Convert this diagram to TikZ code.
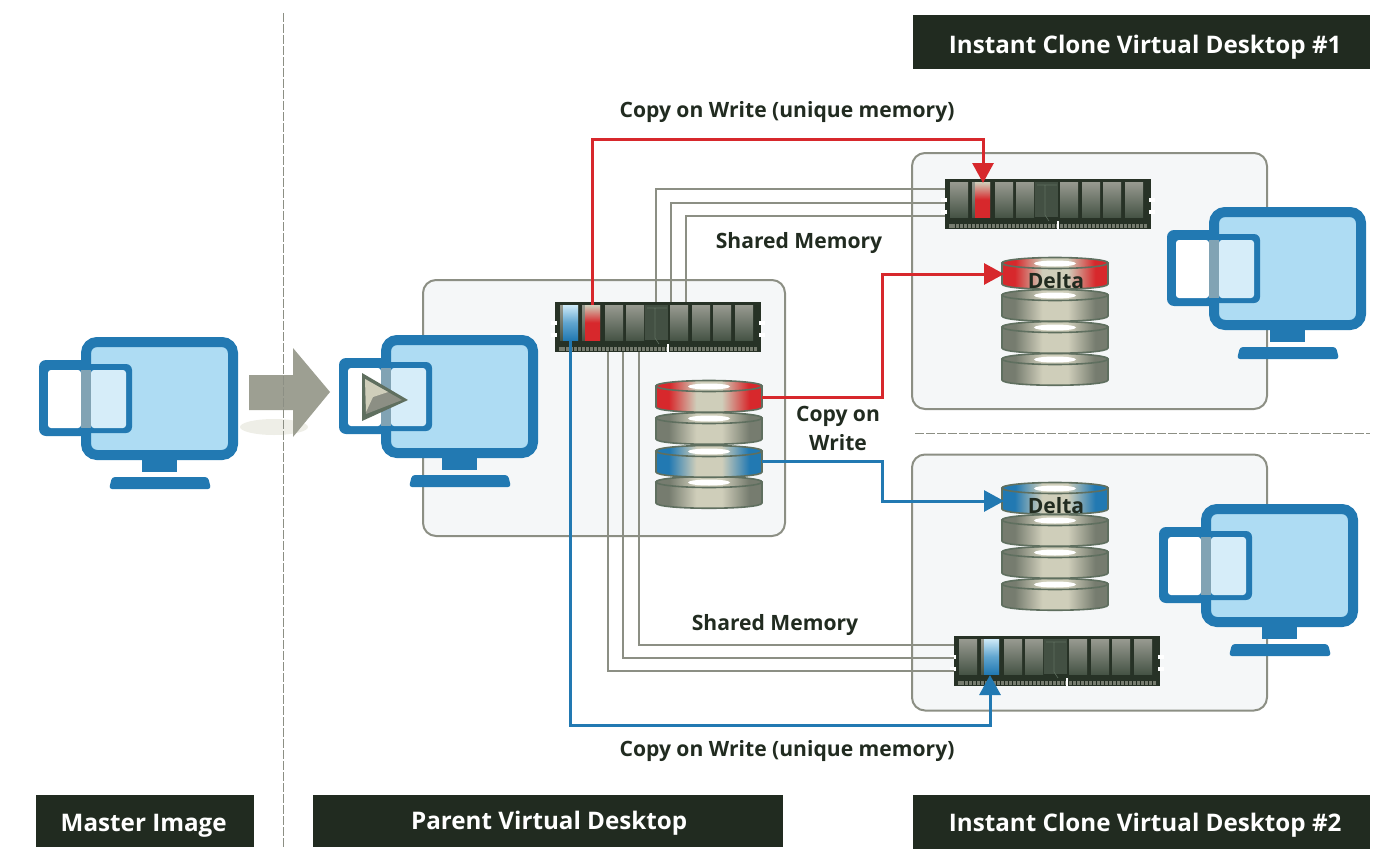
\documentclass[tikz,border=0pt]{standalone}
\usepackage{xcolor}
\usepackage{fontspec}
\setmainfont{Open Sans}
\usetikzlibrary{arrows.meta,calc,positioning}
\definecolor{dkband}{HTML}{212B20}
\definecolor{pcblue}{HTML}{2279B2}
\definecolor{pcscreen}{HTML}{AEDCF3}
\definecolor{cowred}{HTML}{D7282C}
\definecolor{wiregray}{HTML}{8C8F84}
\definecolor{cream}{HTML}{CFCEBA}
\definecolor{diskedge}{HTML}{5F6F5F}
\definecolor{diskgray}{HTML}{767C6F}
\definecolor{panelfill}{HTML}{F5F7F8}
\colorlet{diskside}{diskgray}
\colorlet{diskmid}{cream}
\pgfdeclarehorizontalshading[diskside,diskmid]{diskshade}{100bp}{
	color(0bp)=(diskside); color(31bp)=(diskside); color(44bp)=(diskmid);
	color(56bp)=(diskmid); color(69bp)=(diskside); color(100bp)=(diskside)}
\tikzset{
	band/.style={fill=dkband,text=white,font=\bfseries\fontsize{24.2}{28}\selectfont,inner sep=0,anchor=north west,text height=#1,text depth=0},
	lbl/.style={text=dkband,font=\bfseries\fontsize{21.1}{29}\selectfont,align=center,inner sep=0},
	panel/.style={draw=wiregray,line width=2,fill=panelfill,rounded corners=13,minimum width=#1,minimum height=256,inner sep=0},
	redline/.style={draw=cowred,line width=3,-{Triangle[length=20,width=21]}},
	blueline/.style={draw=pcblue,line width=3,-{Triangle[length=20,width=21]}},
	wire/.style={draw=wiregray,line width=1.6},
	sepline/.style={draw=wiregray,line width=1,dash pattern=on 9 off 2},
	redchip/.style={top color=cream,bottom color=cowred,middle color=cowred},
	bluechip/.style={top color=pcscreen!60!white,bottom color=pcblue,middle color=pcblue!55!pcscreen},
	monitor/.pic={
		\fill[pcblue] (-42,23) [rounded corners=7] rectangle (12,99);
		\draw[pcblue,line width=10,fill=pcscreen,rounded corners=11] (5,5) rectangle (152,118);
		\fill[pcblue] (61,122) rectangle (96,135);
		\fill[pcblue,rounded corners=3] (28,152) -- (31,140) -- (127,140) -- (130,152) -- cycle;
		\fill[pcblue,rounded corners=6] (-10,27) rectangle (51,96);
		\fill[white,rounded corners=3] (-33,33) rectangle (0,91);
		\fill[pcscreen!50!white,rounded corners=3] (10,33) rectangle (45,91);
		\fill[pcblue!50!wiregray!75!white] (0,33) rectangle (10,91);
	},
	ramstick/.pic={
		\fill[dkband!90!diskedge] (0,0) rectangle (206,50);
		\fill[diskgray] (4,45) rectangle (202,49);
		\foreach \t in {10,14,...,198} \fill[dkband] (\t,45) rectangle ++(1,4);
		\fill[white] (112,42) rectangle ++(2,8);
		\foreach \e in {-1,207} {
			\fill[white] ($(\e,21)+(-3,-2)$) rectangle ++(6,4);
			\fill[white] ($(\e,33)+(-3,-2)$) rectangle ++(6,4);
		}
		\fill[diskedge!55!dkband] (90,3) rectangle (113,38);
		\foreach \n/\c in {a/5,b/27,c/50,d/71,e/115,f/137,g/158,h/180} {
			\coordinate (-\n) at ({\c+3},3);
			\fill[top color=wiregray!90!white,bottom color=diskedge!60!dkband] (\c,3) rectangle ++(18,35);
		}
		\draw[diskedge,line width=.6] (92,6) -- (112,6) (100,6) -- (100,36) -- (104,42);
	},
	disklayer/.pic={
		\colorlet{diskside}{#1}
		\path[shading=diskshade,draw=diskedge,line width=1.6]
			(0,6) -- (0,27) .. controls (0,34) and (106,34) .. (106,27) -- (106,6)
			.. controls (106,0) and (0,0) .. (0,6) -- cycle;
		\path[shading=diskshade] (53,6) circle[x radius=52,y radius=5];
		\fill[white] (53,6.5) circle[x radius=21,y radius=3];
		\draw[diskedge,line width=1.6] (53,6) circle[x radius=53,y radius=5.5];
	},
}
\begin{document}
\begin{tikzpicture}[x=1pt,y=-1pt]
	\useasboundingbox (0,0) rectangle (1393,867);

	% panels and title bands
	\node[panel=362] (parentbox) at (604,408) {};
	\node[panel=355] (cloneAbox) at (1089.5,281) {};
	\node[panel=355] (cloneBbox) at (1089.5,582.5) {};
	\node[band=22.4,minimum width=457,minimum height=54] (titleA) at (913,15) {\hspace*{7pt}Instant Clone Virtual Desktop \#1};
	\node[band=20,minimum width=218,minimum height=52] (titleM) at (36,795) {Master Image\hspace*{3pt}};
	\node[band=16.4,minimum width=470,minimum height=52] (titleP) at (313,795) {\hspace*{2pt}Parent Virtual Desktop};
	\node[band=18.4,minimum width=457,minimum height=54] (titleB) at (913,795) {\hspace*{7pt}Instant Clone Virtual Desktop \#2};

	% big arrow
	\fill[cream!35!white] (274,427) circle[x radius=34,y radius=8];
	\fill[wiregray!75!cream] (249,375) -- (293,375) -- (293,348) -- (330,392) -- (293,437) -- (293,410) -- (249,410) -- cycle;

	\coordinate (sepT) at (283,13);
	\coordinate (sepB) at (283,847);
	\draw[sepline] (sepT) -- (sepB);
	\coordinate (sepL) at (915,433);
	\coordinate (sepR) at (1370,433);
	\draw[sepline] (sepL) -- (sepR);

	% desktops
	\pic (master) at (81,337) {monitor};
	\pic (parent) at (381,335) {monitor};
	\pic (cloneA) at (1209,207) {monitor};
	\pic (cloneB) at (1201,504) {monitor};
	\fill[diskedge] (362,373) -- (408,400) -- (362,421) -- cycle;
	\fill[wiregray] (365,379) -- (402,400) -- (366,414) -- cycle;
	\fill[cream] (365,379) -- (388,392) -- (373,397) -- (366,412) -- cycle;

	% memory
	\pic (ramP) at (555,302) {ramstick};
	\pic (ramA) at (945,179) {ramstick};
	\pic (ramB) at (954,636) {ramstick};
	\fill[bluechip] (ramP-a) rectangle ++(15,35);
	\fill[redchip] (ramP-b) rectangle ++(15,35);
	\fill[redchip] (ramA-b) rectangle ++(15,35);
	\fill[bluechip] (ramB-b) rectangle ++(15,35);

	% disk stacks
	\pic (d4) at (656,476) {disklayer=diskgray};
	\pic (d3) at (656,445) {disklayer=pcblue};
	\pic (d2) at (656,412) {disklayer=diskgray};
	\pic (d1) at (656,380) {disklayer=cowred};

	\pic (a4) at (1002,353) {disklayer=diskgray};
	\pic (a3) at (1002,321) {disklayer=diskgray};
	\pic (a2) at (1002,289) {disklayer=diskgray};
	\pic (a1) at (1002,257) {disklayer=cowred};

	\pic (b4) at (1002,578) {disklayer=diskgray};
	\pic (b3) at (1002,546) {disklayer=diskgray};
	\pic (b2) at (1002,514) {disklayer=diskgray};
	\pic (b1) at (1002,482) {disklayer=pcblue};

	\node[lbl] (deltaA) at (1056,281) {Delta};
	\node[lbl] (deltaB) at (1056,506) {Delta};

	% connector end points
	\coordinate (ramPred) at (592,305);
	\coordinate (ramPblue) at (570,340);
	\coordinate (ramAin) at (983,183);
	\coordinate (ramBin) at (990,675);
	\coordinate (cornerA) at (983,139);
	\coordinate (cornerB) at (990,725);
	\coordinate (diskPred) at (762,397);
	\coordinate (diskPblue) at (762,461);
	\coordinate (diskAin) at (1004,274);
	\coordinate (diskBin) at (1004,501);
	\coordinate (midA) at (882,274);
	\coordinate (midB) at (882,501);

	% shared memory
	\foreach \px/\py in {656/189,671/203,686/216}
		\draw[wire] (\px,302) |- (945,\py);
	\foreach \px/\py in {639/645,623/658,608/671}
		\draw[wire] (\px,352) |- (954,\py);

	% copy on write
	\draw[redline] (ramPred) |- (cornerA) -- (ramAin);
	\draw[blueline] (ramPblue) |- (cornerB) -- (ramBin);
	\draw[redline] (diskPred) -| (midA) -- (diskAin);
	\draw[blueline] (diskPblue) -| (midB) -- (diskBin);

	\node[lbl] (cowA) at (787,112) {Copy on Write (unique memory)};
	\node[lbl] (shareA) at (799,243) {Shared Memory};
	\node[lbl] (cowP) at (838,428) {Copy on\\Write};
	\node[lbl] (shareB) at (775,625) {Shared Memory};
	\node[lbl] (cowB) at (787,751) {Copy on Write (unique memory)};
\end{tikzpicture}
\end{document}
